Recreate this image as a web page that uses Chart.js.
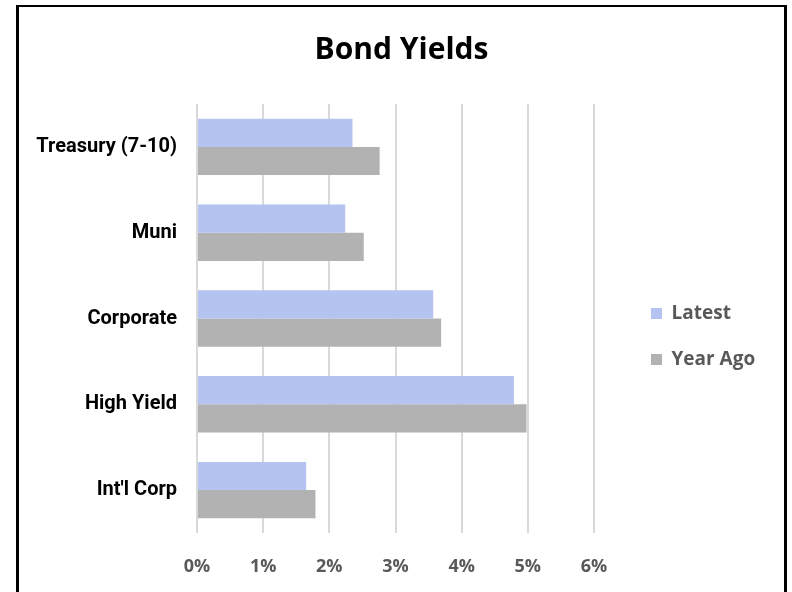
<!DOCTYPE html>
<html>
<head>
<meta charset="utf-8">
<title>Bond Yields</title>
<script src="https://cdn.jsdelivr.net/npm/chart.js@4.4.1/dist/chart.umd.min.js"></script>
<style>
  html, body { margin: 0; padding: 0; background: #fff; }
  body { width: 792px; height: 592px; overflow: hidden; position: relative; }
  #frame {
    position: absolute;
    left: 16px;
    top: 5px;
    width: 765px;
    height: 600px;
    border-left: 3px solid #000;
    border-right: 3px solid #000;
    border-top: 2px solid #000;
  }
  #bondChart { display: block; }
</style>
</head>
<body>
<div id="frame">
  <canvas id="bondChart" width="765" height="585"></canvas>
</div>
<script>
const categories = ['Treasury (7-10)', 'Muni', 'Corporate', 'High Yield', "Int'l Corp"];
const latestYields = [2.35, 2.24, 3.57, 4.79, 1.65];
const yearAgoYields = [2.76, 2.52, 3.69, 4.98, 1.79];
const seriesNames = ['Latest', 'Year Ago'];
const seriesColors = ['#b4c3f0', '#b2b2b2'];
const xTickMax = 6;

const uiFont = "'Open Sans', 'Noto Sans', sans-serif";
const RIGHT_BLOCK = 160; // legend + space after it

const ctx = document.getElementById('bondChart').getContext('2d');
window.bondChart = new Chart(ctx, {
  type: 'bar',
  data: {
    labels: categories,
    datasets: [
      {
        label: seriesNames[0],
        data: latestYields,
        backgroundColor: seriesColors[0],
        borderWidth: 0,
        barPercentage: 1,
        categoryPercentage: 0.657
      },
      {
        label: seriesNames[1],
        data: yearAgoYields,
        backgroundColor: seriesColors[1],
        borderWidth: 0,
        barPercentage: 1,
        categoryPercentage: 0.657
      }
    ]
  },
  options: {
    indexAxis: 'y',
    responsive: false,
    devicePixelRatio: 1,
    animation: false,
    layout: {
      padding: { left: 0, right: 0, top: 0, bottom: 16 }
    },
    scales: {
      x: {
        min: 0,
        max: xTickMax,
        z: 1,   // grid over the bars, like the original
        grid: {
          color: 'rgba(0,0,0,0.15)',
          lineWidth: 2,
          drawTicks: false
        },
        border: { display: false },
        ticks: {
          stepSize: 1,
          padding: 23,
          color: '#595959',
          font: { family: uiFont, size: 18, weight: 'bold' },
          callback: v => v + '%'
        },
        afterFit: scale => { scale.height = 43; }
      },
      y: {
        grid: { display: false, drawTicks: false },
        border: { display: false },
        ticks: {
          padding: 20,
          color: '#000',
          font: { family: "Roboto, 'Liberation Sans', Arial, sans-serif", size: 20, weight: 'bold' }
        },
        afterFit: scale => {
          scale.width = 178;
          scale.paddingTop = 0;
          scale.paddingBottom = 0;
        }
      },
      // empty spacer between plot and legend
      gap: {
        type: 'category',
        position: 'right',
        grid: { display: false },
        border: { display: false },
        ticks: { display: false },
        afterFit: scale => { scale.width = 30; }
      },
      // spacer right of the legend, fills what the legend leaves
      edge: {
        type: 'category',
        position: 'right',
        weight: 2000,
        grid: { display: false },
        border: { display: false },
        ticks: { display: false },
        afterFit: scale => {
          const lg = scale.chart.legend;
          scale.width = Math.max(0, RIGHT_BLOCK - (lg ? lg.width : 0));
        }
      }
    },
    plugins: {
      title: {
        display: true,
        text: 'Bond Yields',
        color: '#000',
        font: { family: uiFont, size: 30, weight: 'bold' },
        padding: { top: 25, bottom: 36 }
      },
      legend: {
        position: 'right',
        fullSize: false,
        maxWidth: 200,
        title: {
          display: true,
          text: '',
          font: { size: 30 },
          padding: 0
        },
        labels: {
          boxWidth: 11,
          boxHeight: 11,
          padding: 27,
          color: '#595959',
          font: { family: uiFont, size: 19, weight: 'bold' }
        }
      },
      tooltip: { enabled: false }
    }
  }
});
</script>
</body>
</html>
